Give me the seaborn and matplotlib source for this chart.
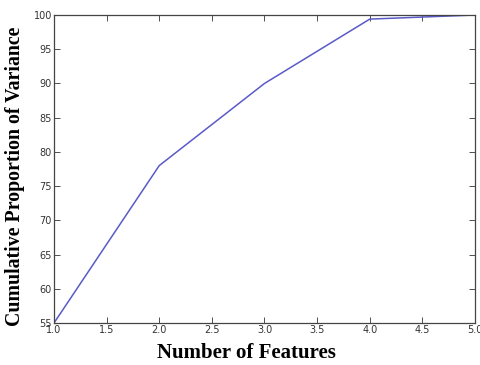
import matplotlib
matplotlib.use("Agg")
import matplotlib.pyplot as plt
import seaborn as sns
import pandas as pd

# values
n_features = [1, 2, 3, 4, 5]
cum_variance = [55.0, 78.0, 90.0, 99.4, 100.0]

x_ticks = [1.0, 1.5, 2.0, 2.5, 3.0, 3.5, 4.0, 4.5, 5.0]
y_ticks = [55, 60, 65, 70, 75, 80, 85, 90, 95, 100]

df = pd.DataFrame({"features": n_features, "variance": cum_variance})

sns.set_style("ticks")
plt.rcParams["font.family"] = ["DejaVu Sans"]

fig = plt.figure(figsize=(4.81, 3.65), dpi=100)
ax = fig.add_axes([54 / 481, 1 - 323 / 365, (475 - 54) / 481, (323 - 15) / 365])

sns.lineplot(data=df, x="features", y="variance", ax=ax, color="#5a5ac8", linewidth=1.1)

ax.set_xlim(1.0, 5.0)
ax.set_ylim(55, 100)
ax.set_xticks(x_ticks)
ax.set_yticks(y_ticks)
ax.set_xticklabels([f"{t:.1f}" for t in x_ticks])
ax.set_yticklabels([str(t) for t in y_ticks])
ax.tick_params(direction="in", length=4, width=0.6, colors="#333333",
               labelsize=7, pad=1.5, top=True, right=True)
for s in ax.spines.values():
    s.set_color("#444444")
    s.set_linewidth(0.9)

# bold serif axis titles, as in the reference
ax.set_xlabel("Number of Features", family="Liberation Serif", weight="bold",
              size=15, color="black")
ax.set_ylabel("Cumulative Proportion of Variance", family="Liberation Serif",
              weight="bold", size=14.3, color="black")
ax.xaxis.set_label_coords((246 - 54) / (475 - 54), -0.065)
ax.yaxis.set_label_coords(-0.068, 0.477)

fig.savefig("out.png", dpi=100)
